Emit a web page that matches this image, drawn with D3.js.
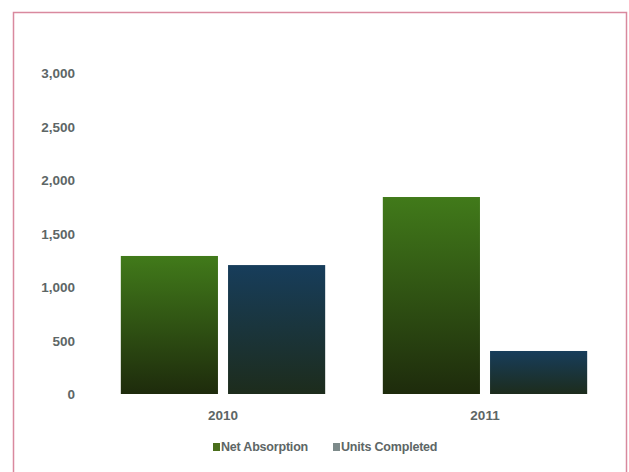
<!DOCTYPE html>
<html>
<head>
<meta charset="utf-8">
<script src="https://cdn.jsdelivr.net/npm/d3@7"></script>
<style>
  body { margin: 0; background: #fff; }
  text { font-family: "Liberation Sans", Arial, sans-serif; fill: #5d6666; font-weight: bold; }
</style>
</head>
<body>
<div id="app"></div>
<script>
const years = ["2010", "2011"];
const series = ["Net Absorption", "Units Completed"];
const netAbsorption = [1290, 1841];
const unitsCompleted = [1205, 402];
const yTicks = [0, 500, 1000, 1500, 2000, 2500, 3000];

const w = 629,
      h = 472;

const svg = d3.select("#app")
      .append("svg")
      .attr("width", w)
      .attr("height", h);

// frame
svg.append("rect")
    .attr("x", 13.5)
    .attr("y", 12.5)
    .attr("width", 613)
    .attr("height", 470)
    .attr("fill", "#fff")
    .attr("stroke", "#d9899e")
    .attr("stroke-width", 1.5);

const defs = svg.append("defs");
const grads = [
    { id: "g0", top: "#417a1a", bottom: "#1e2b0c" },
    { id: "g1", top: "#173d5b", bottom: "#1d2c1c" }
];
grads.forEach(g => {
    const lg = defs.append("linearGradient")
        .attr("id", g.id)
        .attr("x1", 0).attr("y1", 0)
        .attr("x2", 0).attr("y2", 1);
    lg.append("stop").attr("offset", "0%").attr("stop-color", g.top);
    lg.append("stop").attr("offset", "100%").attr("stop-color", g.bottom);
});

const yScale = d3.scaleLinear()
    .domain([0, 3000])
    .range([394, 73]);

const x0 = d3.scaleBand()
    .domain(years)
    .range([92, 616])
    .paddingInner(0.22)
    .paddingOuter(0.11);

const x1 = d3.scaleBand()
    .domain(series)
    .range([0, x0.bandwidth()])
    .paddingInner(0.094);

const yAxis = d3.axisLeft(yScale)
    .tickValues(yTicks)
    .tickSize(0)
    .tickPadding(0)
    .tickFormat(d3.format(","));

const gy = svg.append("g")
    .attr("id", "y-axis")
    .attr("transform", "translate(75, 0)")
    .call(yAxis);
gy.select(".domain").remove();
gy.selectAll("text")
    .attr("font-size", 13.5)
    .attr("dy", "0.35em")
    .style("font-family", "'Liberation Sans', Arial, sans-serif")
    .style("font-weight", "bold")
    .attr("fill", "#5d6666");

const xAxis = d3.axisBottom(x0).tickSize(0).tickPadding(0);
const gx = svg.append("g")
    .attr("id", "x-axis")
    .attr("transform", "translate(0, 415)")
    .call(xAxis);
gx.select(".domain").remove();
gx.selectAll("text")
    .attr("font-size", 13.5)
    .attr("dy", "0.35em")
    .style("font-family", "'Liberation Sans', Arial, sans-serif")
    .style("font-weight", "bold")
    .attr("fill", "#5d6666");

const rows = years.map((y, i) => ({
    year: y,
    values: [
        { key: series[0], value: netAbsorption[i], fill: "url(#g0)" },
        { key: series[1], value: unitsCompleted[i], fill: "url(#g1)" }
    ]
}));

svg.append("g")
    .selectAll("g")
    .data(rows)
    .enter()
    .append("g")
    .attr("transform", d => `translate(${x0(d.year)}, 0)`)
    .selectAll("rect")
    .data(d => d.values)
    .enter()
    .append("rect")
    .attr("x", d => x1(d.key))
    .attr("y", d => yScale(d.value))
    .attr("width", x1.bandwidth())
    .attr("height", d => yScale(0) - yScale(d.value))
    .attr("fill", d => d.fill);

// legend
const legendColors = ["#4a6e1c", "#7d8a8a"];
const legend = svg.append("g")
    .attr("id", "legend")
    .attr("transform", "translate(213, 447)");

const legendX = [0, 120];
legend.selectAll("rect")
    .data(series)
    .enter()
    .append("rect")
    .attr("x", (d, i) => legendX[i])
    .attr("y", -4)
    .attr("width", 7)
    .attr("height", 8)
    .attr("fill", (d, i) => legendColors[i]);

legend.selectAll("text")
    .data(series)
    .enter()
    .append("text")
    .attr("x", (d, i) => legendX[i] + 8)
    .attr("y", 0)
    .attr("dy", "0.35em")
    .attr("font-size", 12.5)
    .attr("letter-spacing", "-0.2")
    .text(d => d);
</script>
</body>
</html>
